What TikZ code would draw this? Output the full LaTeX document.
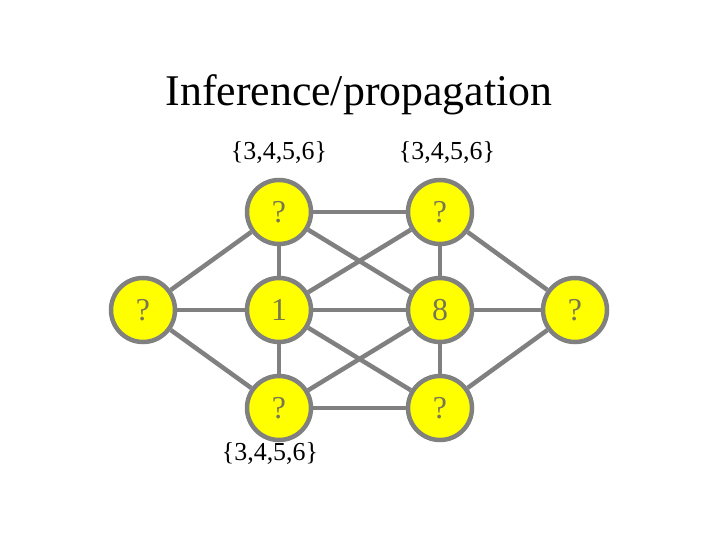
\documentclass[tikz,border=0pt]{standalone}
\usepackage{fontspec}
\setmainfont{Liberation Serif}
\usepackage{tikz}
\definecolor{edgegray}{RGB}{128,128,128}
\definecolor{valgray}{RGB}{120,120,80}
\definecolor{nodeyellow}{RGB}{255,255,0}
\tikzset{
  var/.style={draw=edgegray,line width=4.5bp,circle,fill=nodeyellow,minimum size=64bp,inner sep=0pt,text=valgray,font=\fontsize{32}{34}\selectfont},
  link/.style={draw=edgegray,line width=4.5bp},
  dom/.style={font=\fontsize{26}{28}\selectfont}
}
\begin{document}
\begin{tikzpicture}[x=1bp,y=-1bp]
  \useasboundingbox (0,0) rectangle (720,540);
  \node[font=\fontsize{44}{48}\selectfont] (title) at (359,95) {Inference/propagation};

  %left and right variables
  \node[var] (l) at (143,310) {?};
  \node[var] (r) at (575,310) {?};
  %first column
  \node[var] (a1) at (279,212) {?};
  \node[var] (a2) at (279,310) {1};
  \node[var] (a3) at (279,408) {?};
  %second column
  \node[var] (b1) at (440,212) {?};
  \node[var] (b2) at (440,310) {8};
  \node[var] (b3) at (440,408) {?};

  %domains
  \node[dom] (da1) at (279,153) {\{3,4,5,6\}};
  \node[dom] (db1) at (447,153) {\{3,4,5,6\}};
  \node[dom] (da3) at (270,454) {\{3,4,5,6\}};

  \foreach \n in {a1,a2,a3} {
    \draw[link] (l) -- (\n);
  }
  \foreach \n in {b1,b2,b3} {
    \draw[link] (r) -- (\n);
  }
  \draw[link] (a1) -- (a2) -- (a3);
  \draw[link] (b1) -- (b2) -- (b3);
  \draw[link] (a1) -- (b1);
  \draw[link] (a1) -- (b2);
  \draw[link] (a2) -- (b1);
  \draw[link] (a2) -- (b2);
  \draw[link] (a2) -- (b3);
  \draw[link] (a3) -- (b2);
  \draw[link] (a3) -- (b3);
\end{tikzpicture}
\end{document}
